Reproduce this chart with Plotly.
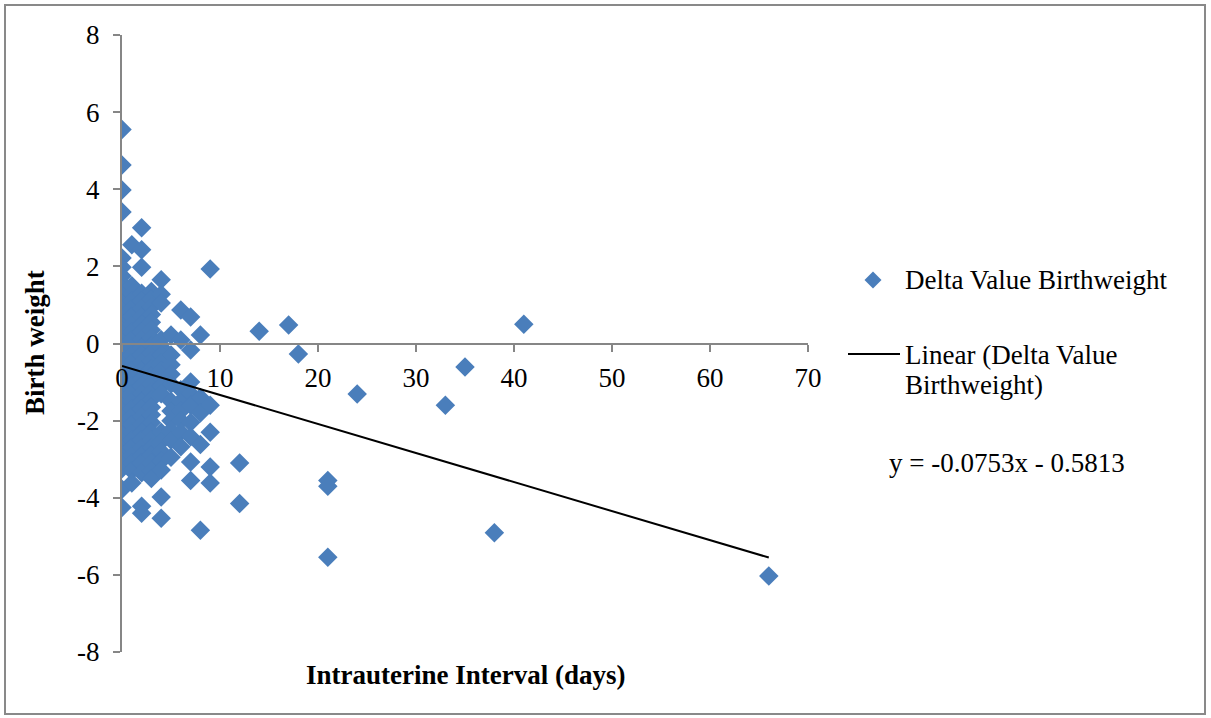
import plotly.graph_objects as go

# ---- data ----
bw_d0 = [5.55, 4.63, 3.98, 3.41, 2.22, 1.98, 1.75, 1.55, 1.4, 1.22, 1.05, 0.88, 0.7, 0.52, 0.35, 0.2,
         0.04, -0.12, -0.28, -0.42, -0.58, -0.72, -0.88, -1.02, -1.18, -1.32, -1.48, -1.62, -1.78,
         -1.92, -2.08, -2.22, -2.38, -2.52, -2.7, -2.88, -3.05, -3.25, -3.78, -4.25]
bw_d1 = [2.56, 1.5, 1.3, 1.1, 0.9, 0.7, 0.5, 0.3, 0.1, -0.1, -0.3, -0.5, -0.7, -0.9, -1.1, -1.3,
         -1.5, -1.7, -1.9, -2.1, -2.3, -2.5, -2.7, -2.9, -3.1, -3.3, -3.62]
bw_d2 = [3.0, 2.43, 1.98, 1.3, 1.1, 0.9, 0.7, 0.5, 0.3, 0.1, -0.1, -0.3, -0.5, -0.7, -0.9, -1.1,
         -1.3, -1.5, -1.7, -1.9, -2.1, -2.3, -2.5, -2.7, -2.9, -3.1, -3.35, -4.22, -4.4]
bw_d3 = [1.35, 1.15, 0.95, 0.75, 0.55, 0.35, 0.15, -0.05, -0.25, -0.45, -0.65, -0.85, -1.05,
         -1.25, -1.45, -1.65, -1.85, -2.05, -2.3, -2.5, -2.7, -2.9, -3.1, -3.3, -3.5]
bw_d4 = [1.65, 1.28, 1.05, 0.1, -0.1, -0.3, -0.5, -0.7, -0.9, -1.1, -1.3, -2.3, -2.55, -2.8,
         -3.05, -3.28, -3.98, -4.53]
bw_d5 = [0.22, -0.3, -0.55, -0.8, -1.05, -1.5, -1.75, -2.0, -2.25, -2.5, -2.95]
bw_d6 = [0.87, 0.09, -1.2, -1.5, -1.75, -2.0, -2.3, -2.68]
bw_d7 = [0.69, -0.17, -1.0, -1.3, -1.6, -2.05, -2.42, -3.07, -3.55]
bw_d8 = [0.22, -1.4, -1.8, -2.62, -4.84]
bw_d9 = [1.93, -1.6, -2.3, -3.2, -3.62]
days_other = [12, 12, 14, 17, 18, 21, 21, 21, 24, 33, 35, 38, 41, 66]
bw_other = [-3.1, -4.15, 0.32, 0.48, -0.27, -3.55, -3.7, -5.54, -1.31, -1.6, -0.61, -4.91, 0.5, -6.03]

trend_slope = -0.0753
trend_intercept = -0.5813

x_ticks = [0, 10, 20, 30, 40, 50, 60, 70]
y_ticks = [-8, -6, -4, -2, 0, 2, 4, 6, 8]
y_tick_labels = ["-8", "-6", "-4", "-2", "0", "2", "4", "6", "8"]

# ---- assemble ----
short_cols = [bw_d0, bw_d1, bw_d2, bw_d3, bw_d4, bw_d5, bw_d6, bw_d7, bw_d8, bw_d9]
interval_days = []
delta_bw = []
for d, col in enumerate(short_cols):
    interval_days += [d] * len(col)
    delta_bw += col
interval_days += days_other
delta_bw += bw_other

tx = [min(interval_days), max(interval_days)]
ty = [trend_slope * v + trend_intercept for v in tx]

FONT = "Liberation Serif"
FS = 27
BLUE = "#4A7EBB"
GRAY = "#868686"

W, H = 1211, 718
L, R, T, B = 122, 403, 35, 66
PW, PH = W - L - R, H - T - B


def px(x):
    return (x - L) / PW


def py(y):
    return (H - B - y) / PH


fig = go.Figure()
fig.add_trace(go.Scatter(
    x=interval_days, y=delta_bw, mode="markers",
    marker=dict(symbol="diamond", size=15, color=BLUE, line=dict(width=0)),
    name="Delta Value Birthweight", showlegend=False,
))
fig.add_trace(go.Scatter(
    x=tx, y=ty, mode="lines", line=dict(color="black", width=2),
    name="Linear (Delta Value Birthweight)", showlegend=False,
))

axis_common = dict(
    showgrid=False, zeroline=False, showline=True, linecolor=GRAY, linewidth=2,
    ticks="outside", ticklen=7, tickwidth=2, tickcolor=GRAY,
    tickfont=dict(family=FONT, size=FS, color="black"),
)
fig.update_xaxes(range=[0, 70], tickvals=x_ticks, anchor="free", position=0.5,
                 ticklabelstandoff=3, **axis_common)
fig.update_yaxes(range=[-8, 8], tickvals=y_ticks, ticktext=y_tick_labels,
                 ticklabelstandoff=8, **axis_common)

shapes = [
    dict(type="rect", xref="paper", yref="paper",
         x0=px(5), x1=px(1205), y0=py(714), y1=py(5),
         line=dict(color="#898989", width=2)),
    dict(type="path", xref="paper", yref="paper",
         path=f"M {px(873)},{py(271.5)} L {px(881.5)},{py(280)} L {px(873)},{py(288.5)} L {px(864.5)},{py(280)} Z",
         fillcolor=BLUE, line=dict(width=0)),
    dict(type="line", xref="paper", yref="paper",
         x0=px(848), x1=px(900), y0=py(354), y1=py(354),
         line=dict(color="black", width=2)),
]

ann_font = dict(family=FONT, size=FS, color="black")
annotations = [
    dict(text="Delta Value Birthweight", x=px(903), y=py(280), xref="paper", yref="paper",
         xanchor="left", yanchor="middle", showarrow=False, font=ann_font),
    dict(text="Linear (Delta Value", x=px(903), y=py(355), xref="paper", yref="paper",
         xanchor="left", yanchor="middle", showarrow=False, font=ann_font),
    dict(text="Birthweight)", x=px(903), y=py(385), xref="paper", yref="paper",
         xanchor="left", yanchor="middle", showarrow=False, font=ann_font),
    dict(text="y = -0.0753x - 0.5813", x=px(887), y=py(463), xref="paper", yref="paper",
         xanchor="left", yanchor="middle", showarrow=False, font=ann_font),
    dict(text="<b>Intrauterine Interval (days)</b>", x=px(465), y=py(675), xref="paper", yref="paper",
         xanchor="center", yanchor="middle", showarrow=False, font=ann_font),
    dict(text="<b>Birth weight</b>", x=px(35), y=py(343), xref="paper", yref="paper",
         xanchor="center", yanchor="middle", showarrow=False, font=ann_font, textangle=-90),
]

fig.update_layout(
    width=W, height=H,
    margin=dict(l=L, r=R, t=T, b=B),
    paper_bgcolor="white", plot_bgcolor="white",
    shapes=shapes, annotations=annotations,
    showlegend=False,
)

fig.write_html("out.html", config={"displayModeBar": False},
               post_script="document.body.style.margin='0';")
